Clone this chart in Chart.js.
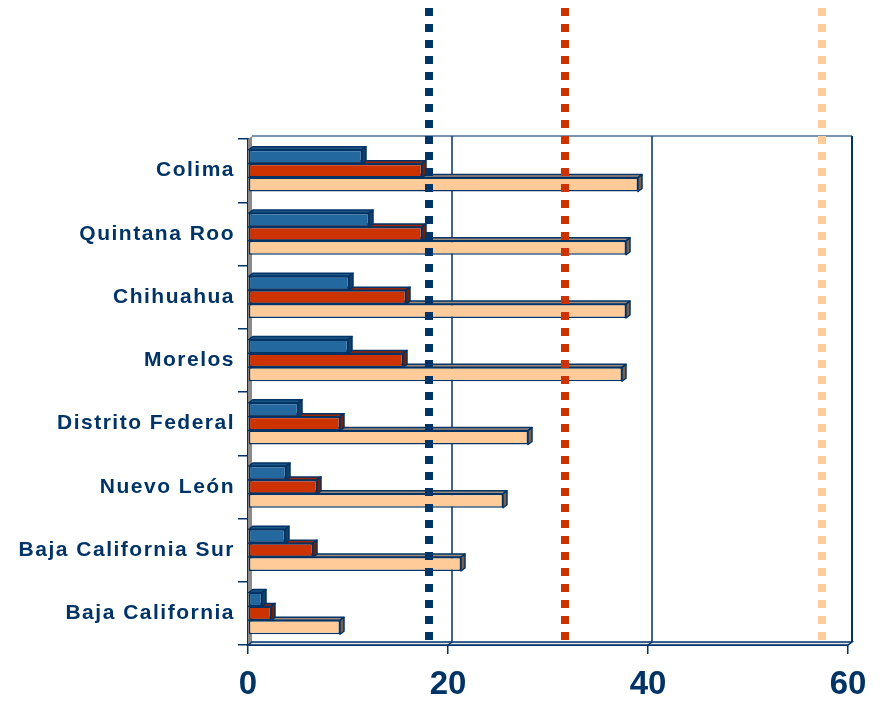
<!DOCTYPE html>
<html>
<head>
<meta charset="utf-8">
<script src="https://cdn.jsdelivr.net/npm/chart.js@4.4.0/dist/chart.umd.min.js"></script>
<style>
html, body { margin: 0; padding: 0; background: #fff; }
#wrap { width: 886px; height: 703px; }
</style>
</head>
<body>
<div id="wrap"><canvas id="chart" width="886" height="703"></canvas></div>
<script>
// === Data ===
const states = ['Colima', 'Quintana Roo', 'Chihuahua', 'Morelos', 'Distrito Federal', 'Nuevo León', 'Baja California Sur', 'Baja California'];
const serieA = [11.4, 12.1, 10.1, 10.0, 5.0, 3.8, 3.7, 1.4];
const serieB = [17.4, 17.4, 15.8, 15.5, 9.2, 6.9, 6.5, 2.3];
const serieC = [39.0, 37.8, 37.8, 37.4, 28.0, 25.5, 21.3, 9.2];
const refValues = [18.1, 31.7, 57.4];
const xTicks = [0, 20, 40, 60];

// === Styles ===
const navy = '#003366';
const frontColors = ['#2369A0', '#CC3300', '#FFCC99'];
const topColors = ['#1C5785', '#992600', '#A08C78'];
const sideColors = ['#163F66', '#7A1E00', '#806045'];
const refColors = [navy, '#CC3300', '#FFCC99'];
const DX = 4, DY = 3;

// back wall, left wall, floor
const wallPlugin = {
    id: 'walls',
    beforeDraw(chart) {
        // spaced-out category labels (y labels draw before the datasets)
        chart.ctx.letterSpacing = '1.5px';
    },
    beforeDatasetsDraw(chart) {
        const { ctx, chartArea: a, scales } = chart;
        ctx.letterSpacing = '0px';
        ctx.save();
        // left wall
        ctx.fillStyle = '#8a8a8a';
        ctx.beginPath();
        ctx.moveTo(a.left, a.top);
        ctx.lineTo(a.left + DX, a.top - DY);
        ctx.lineTo(a.left + DX, a.bottom - DY);
        ctx.lineTo(a.left, a.bottom);
        ctx.closePath();
        ctx.fill();
        // floor
        ctx.fillStyle = '#dfe6ee';
        ctx.beginPath();
        ctx.moveTo(a.left, a.bottom);
        ctx.lineTo(a.left + DX, a.bottom - DY);
        ctx.lineTo(a.right + DX, a.bottom - DY);
        ctx.lineTo(a.right, a.bottom);
        ctx.closePath();
        ctx.fill();
        ctx.strokeStyle = navy;
        ctx.lineWidth = 1.5;
        ctx.stroke();
        // back wall frame
        ctx.strokeStyle = '#4d7094';
        ctx.lineWidth = 1.5;
        ctx.beginPath();
        ctx.moveTo(a.left + DX, a.top - DY);
        ctx.lineTo(a.right + DX, a.top - DY);
        ctx.stroke();
        ctx.strokeStyle = navy;
        ctx.lineWidth = 2;
        ctx.beginPath();
        ctx.moveTo(a.right + DX, a.top - DY);
        ctx.lineTo(a.right + DX, a.bottom - DY);
        ctx.stroke();
        // gridlines on the back wall
        ctx.lineWidth = 1.5;
        xTicks.slice(1, -1).forEach(v => {
            const x = scales.x.getPixelForValue(v) + DX;
            ctx.beginPath();
            ctx.moveTo(x, a.top - DY);
            ctx.lineTo(x, a.bottom - DY);
            ctx.stroke();
            ctx.beginPath();
            ctx.moveTo(x, a.bottom - DY);
            ctx.lineTo(x - DX, a.bottom);
            ctx.stroke();
        });
        ctx.restore();
    }
};

// 3D top and side faces, drawn just before each dataset's front faces
const bars3d = {
    id: 'bars3d',
    beforeDatasetDraw(chart, args) {
        const ctx = chart.ctx;
        const i = args.index;
        ctx.save();
        ctx.lineWidth = 1.5;
        ctx.strokeStyle = navy;
        ctx.lineJoin = 'round';
        args.meta.data.forEach(bar => {
            const { x, y, base, height } = bar.getProps(['x', 'y', 'base', 'height'], true);
            const top = y - height / 2, bot = y + height / 2;
            ctx.beginPath();
            ctx.moveTo(base, top);
            ctx.lineTo(base + DX, top - DY);
            ctx.lineTo(x + DX, top - DY);
            ctx.lineTo(x, top);
            ctx.closePath();
            ctx.fillStyle = topColors[i];
            ctx.fill();
            ctx.stroke();
            ctx.beginPath();
            ctx.moveTo(x, top);
            ctx.lineTo(x + DX, top - DY);
            ctx.lineTo(x + DX, bot - DY);
            ctx.lineTo(x, bot);
            ctx.closePath();
            ctx.fillStyle = sideColors[i];
            ctx.fill();
            ctx.stroke();
        });
        ctx.restore();
    }
};

// dotted reference lines
const refLines = {
    id: 'refLines',
    afterDatasetsDraw(chart) {
        const { ctx, chartArea: a, scales } = chart;
        ctx.save();
        ctx.lineWidth = 8;
        ctx.lineCap = 'butt';
        ctx.setLineDash([8, 8]);
        refValues.forEach((v, i) => {
            const x = scales.x.getPixelForValue(v);
            ctx.strokeStyle = refColors[i];
            ctx.beginPath();
            ctx.moveTo(x, 8);
            ctx.lineTo(x, a.bottom - 5);
            ctx.stroke();
        });
        ctx.restore();
    }
};

const ctx = document.getElementById('chart').getContext('2d');
new Chart(ctx, {
    type: 'bar',
    data: {
        labels: states,
        datasets: [serieA, serieB, serieC].map((values, i) => ({
            data: values,
            backgroundColor: frontColors[i],
            borderColor: navy,
            borderWidth: 1.5,
            borderSkipped: false,
            categoryPercentage: 0.66,
            barPercentage: 1.0
        }))
    },
    options: {
        indexAxis: 'y',
        responsive: false,
        animation: false,
        devicePixelRatio: 1,
        layout: { padding: { top: 139, right: 38, left: 0, bottom: 0 } },
        plugins: {
            legend: { display: false },
            tooltip: { enabled: false }
        },
        scales: {
            x: {
                min: 0,
                max: 60,
                afterBuildTicks: (scale) => { scale.ticks = xTicks.map(v => ({ value: v })); },
                afterFit: (scale) => { scale.height = 58; },
                ticks: {
                    z: 1,
                    color: navy,
                    padding: 11,
                    font: { family: 'Liberation Sans', size: 33, weight: 'bold' }
                },
                grid: { drawOnChartArea: false, tickLength: 9, color: navy, lineWidth: 1.5 },
                border: { color: navy, width: 2 }
            },
            y: {
                afterFit: (scale) => { scale.width = 248; },
                ticks: {
                    color: navy,
                    padding: 3,
                    font: { family: 'Liberation Sans', size: 21, weight: 'bold' }
                },
                grid: { drawOnChartArea: false, tickLength: 10, color: navy, lineWidth: 1.5 },
                border: { color: navy, width: 2 }
            }
        }
    },
    plugins: [wallPlugin, bars3d, refLines]
});
</script>
</body>
</html>
